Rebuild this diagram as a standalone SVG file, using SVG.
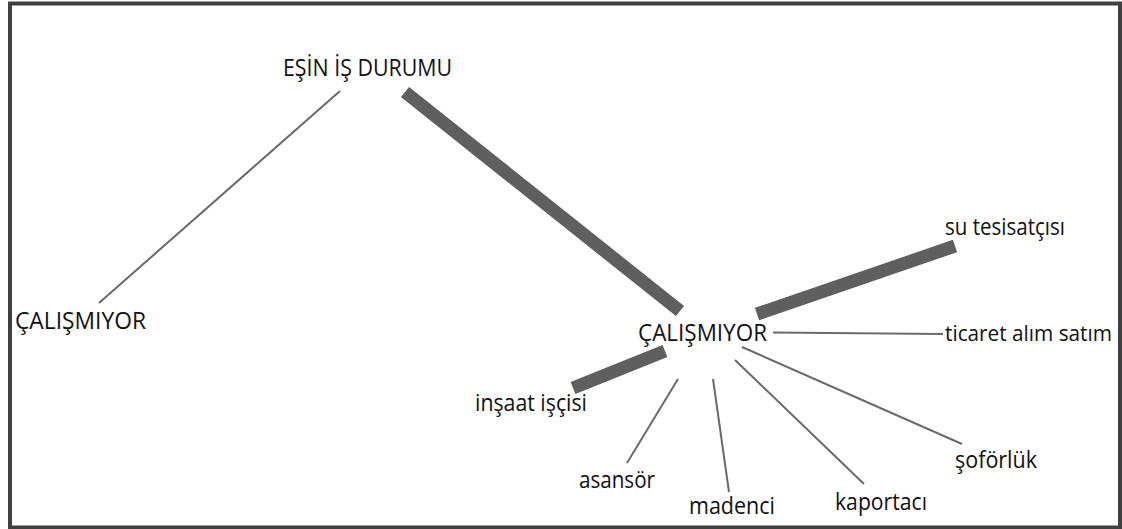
<svg xmlns="http://www.w3.org/2000/svg" width="1122" height="529" viewBox="0 0 1122 529">
<style>
  .lbl { font-family: "Open Sans", "Noto Sans", "Liberation Sans", sans-serif; font-size: 23px; fill: #111; }
  .thin { stroke: #6a6a6a; stroke-width: 2; fill: none; }
  .thick { stroke: #5f5f5f; stroke-width: 13; fill: none; }
</style>
<rect x="0" y="0" width="1122" height="529" fill="#ffffff"/>
<rect x="10" y="3.5" width="1110" height="524" fill="none" stroke="#404040" stroke-width="4"/>
<g id="connectors">
  <line class="thin" x1="340" y1="91" x2="99" y2="303"/>
  <line class="thick" x1="405" y1="92" x2="680" y2="311"/>
  <line class="thick" x1="757" y1="314" x2="955" y2="246"/>
  <line class="thin" x1="773" y1="332.5" x2="943" y2="334" stroke-width="2.5"/>
  <line class="thick" x1="665" y1="351" x2="573" y2="388"/>
  <line class="thin" x1="678" y1="379" x2="627" y2="463"/>
  <line class="thin" x1="713" y1="379" x2="729" y2="492"/>
  <line class="thin" x1="735" y1="360" x2="864" y2="484"/>
  <line class="thin" x1="742" y1="347" x2="962" y2="444"/>
</g>
<g id="n-esin"><text class="lbl" x="283" y="76" textLength="169" lengthAdjust="spacingAndGlyphs">EŞİN İŞ DURUMU</text></g>
<g id="n-calismiyor-left"><text class="lbl" x="15" y="329" textLength="131" lengthAdjust="spacingAndGlyphs">ÇALIŞMIYOR</text></g>
<g id="n-calismiyor"><text class="lbl" x="638" y="341" textLength="129" lengthAdjust="spacingAndGlyphs">ÇALIŞMIYOR</text></g>
<g id="n-su"><text class="lbl" x="945" y="235" textLength="120" lengthAdjust="spacingAndGlyphs">su tesisatçısı</text></g>
<g id="n-ticaret"><text class="lbl" style="font-size:21.5px" x="945" y="341" textLength="167" lengthAdjust="spacingAndGlyphs">ticaret alım satım</text></g>
<g id="n-insaat"><text class="lbl" x="475" y="411" textLength="112" lengthAdjust="spacingAndGlyphs">inşaat işçisi</text></g>
<g id="n-asansor"><text class="lbl" x="579" y="488" textLength="76" lengthAdjust="spacingAndGlyphs">asansör</text></g>
<g id="n-madenci"><text class="lbl" x="689" y="514" textLength="86" lengthAdjust="spacingAndGlyphs">madenci</text></g>
<g id="n-kaportaci"><text class="lbl" x="835" y="510" textLength="92" lengthAdjust="spacingAndGlyphs">kaportacı</text></g>
<g id="n-soforluk"><text class="lbl" x="955" y="468" textLength="82" lengthAdjust="spacingAndGlyphs">şoförlük</text></g>
</svg>
